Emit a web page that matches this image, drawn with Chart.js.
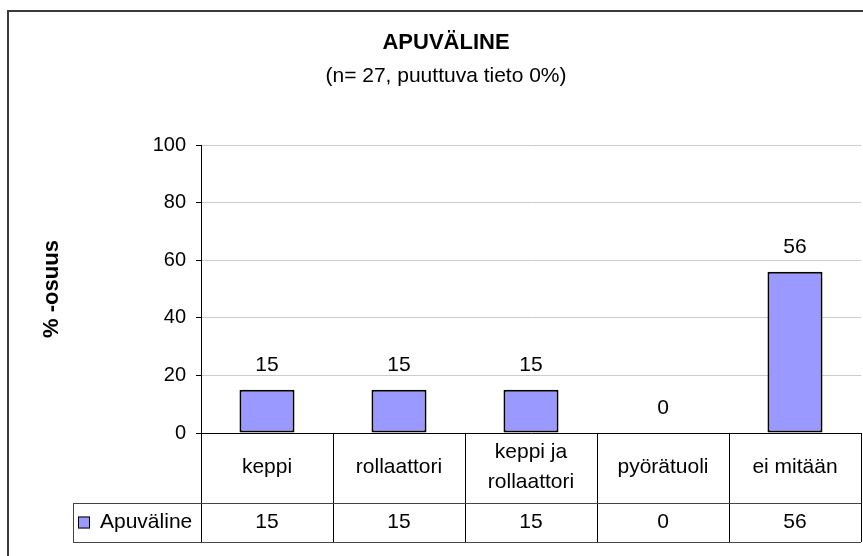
<!DOCTYPE html>
<html><head><meta charset="utf-8">
<script src="https://cdn.jsdelivr.net/npm/chart.js@4/dist/chart.umd.min.js"></script>
<style>html,body{margin:0;padding:0;background:#fff}#wrap{width:863px;height:556px}</style>
</head><body><div id="wrap"><canvas id="c" width="863" height="556"></canvas></div>
<script>
const chartTitle = 'APUVÄLINE';
const chartSubtitle = '(n= 27, puuttuva tieto 0%)';
const categories = [['keppi'], ['rollaattori'], ['keppi ja', 'rollaattori'], ['pyörätuoli'], ['ei mitään']];
const seriesName = 'Apuväline';
const values = [15, 15, 15, 0, 56];
const yTicks = [0, 20, 40, 60, 80, 100];
const yTitle = '% -osuus';

const FONT = '"Liberation Sans", Arial, sans-serif';
const BAR_COLOR = '#9999FF';

const tablePlugin = {
  id: 'tablePlugin',
  afterDraw(chart) {
    const ctx = chart.ctx;
    const ca = chart.chartArea;
    const xs = chart.scales.x;
    ctx.save();
    // outer frame
    ctx.strokeStyle = '#3a3a3a';
    ctx.lineWidth = 2;
    ctx.strokeRect(8, 11, 877, 560);
    // titles
    ctx.fillStyle = '#000';
    ctx.textAlign = 'center';
    ctx.textBaseline = 'middle';
    ctx.font = 'bold 22px ' + FONT;
    ctx.fillText(chartTitle, 446, 43);
    ctx.font = '21px ' + FONT;
    ctx.fillText(chartSubtitle, 446, 76);
    // data labels
    const meta = chart.getDatasetMeta(0);
    ctx.font = '21px ' + FONT;
    meta.data.forEach((bar, i) => {
      ctx.fillText(String(values[i]), bar.x, bar.y - 25);
    });
    // table
    const step = xs.getPixelForValue(1) - xs.getPixelForValue(0);
    const top = ca.bottom;
    const mid = ca.bottom + 70;
    const bot = ca.bottom + 109;
    const legLeft = 73;
    ctx.lineWidth = 1;
    ctx.strokeStyle = '#000';
    ctx.beginPath();
    for (let i = 0; i <= categories.length; i++) {
      const bx = Math.round(xs.getPixelForValue(0) - step / 2 + i * step) + 0.5;
      ctx.moveTo(bx, top);
      ctx.lineTo(bx, bot);
    }
    ctx.stroke();
    ctx.strokeStyle = '#444';
    ctx.beginPath();
    ctx.moveTo(legLeft, mid + 0.5); ctx.lineTo(ca.right, mid + 0.5);
    ctx.moveTo(legLeft, bot + 0.5); ctx.lineTo(ca.right, bot + 0.5);
    ctx.moveTo(legLeft + 0.5, mid); ctx.lineTo(legLeft + 0.5, bot);
    ctx.stroke();
    // category labels and values
    ctx.fillStyle = '#000';
    ctx.font = '21px ' + FONT;
    const catCenter = top + 34;
    const valCenter = (mid + bot) / 2;
    categories.forEach((lines, i) => {
      const cx = xs.getPixelForValue(i);
      const n = lines.length;
      lines.forEach((t, k) => {
        ctx.fillText(t, cx, catCenter - (n - 1) * 15 + k * 30);
      });
      ctx.fillText(String(values[i]), cx, valCenter);
    });
    // legend key
    ctx.fillStyle = BAR_COLOR;
    ctx.fillRect(78, valCenter - 6, 12, 12);
    ctx.strokeStyle = '#000';
    ctx.lineWidth = 1;
    ctx.strokeRect(78.5, valCenter - 5.5, 11, 11);
    ctx.fillStyle = '#000';
    ctx.textAlign = 'left';
    ctx.fillText(seriesName, 100, valCenter);
    ctx.restore();
  }
};

new Chart(document.getElementById('c'), {
  type: 'bar',
  data: {
    labels: categories,
    datasets: [{
      label: seriesName,
      data: values,
      backgroundColor: BAR_COLOR,
      borderColor: '#000',
      borderWidth: 2,
      borderSkipped: false,
      barPercentage: 0.417,
      categoryPercentage: 1
    }]
  },
  options: {
    responsive: false,
    devicePixelRatio: 1,
    animation: false,
    layout: { padding: { top: 145, left: 8, right: 2, bottom: 14 } },
    plugins: { legend: { display: false }, tooltip: { enabled: false }, title: { display: false } },
    scales: {
      x: {
        ticks: { display: false },
        grid: { display: false },
        border: { display: true, color: '#000', width: 1 },
        afterFit(scale) { scale.height = 109; }
      },
      y: {
        min: 0, max: 100,
        afterBuildTicks(scale) { scale.ticks = yTicks.map(v => ({ value: v })); },
        ticks: { color: '#000', font: { family: FONT, size: 20 }, padding: 10 },
        grid: { color: '#cccccc', tickColor: '#000', tickLength: 5, drawTicks: true },
        border: { display: true, color: '#000', width: 1 },
        title: { display: true, text: yTitle, color: '#000', font: { family: FONT, size: 22, weight: 'bold' }, padding: { top: 31, bottom: 0 } },
        afterFit(scale) { scale.width = 193; }
      }
    }
  },
  plugins: [tablePlugin]
});
</script>
</body></html>
